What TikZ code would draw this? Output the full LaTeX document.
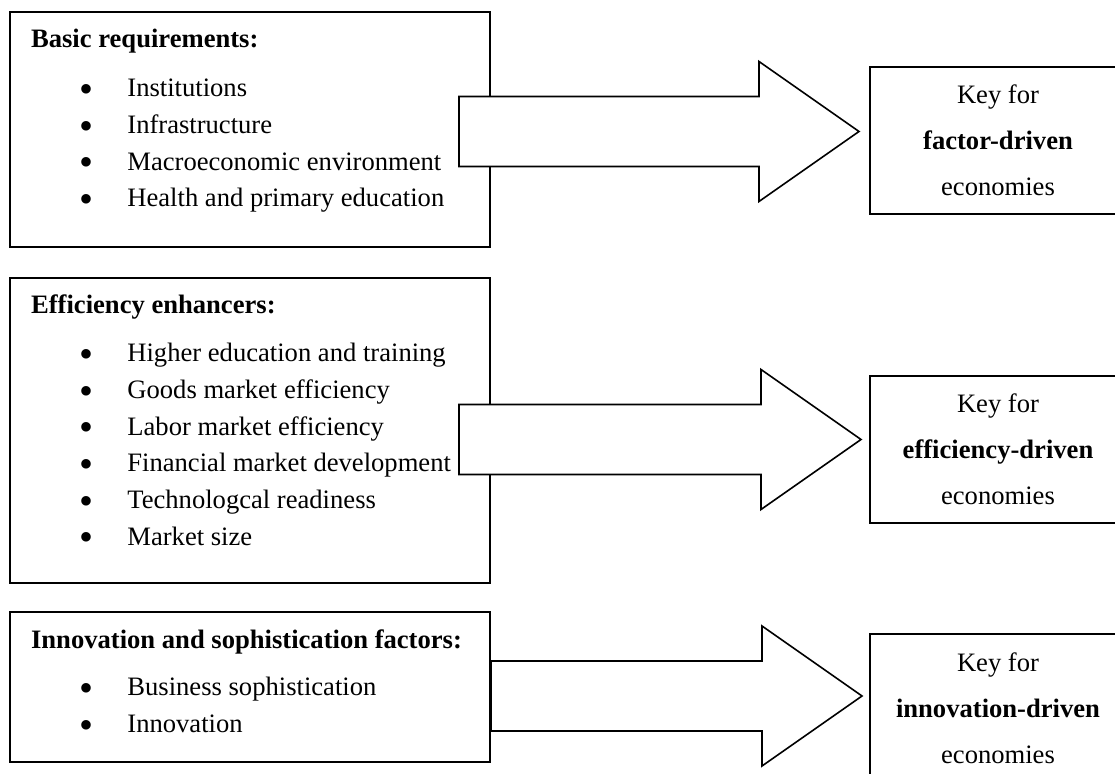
\documentclass[tikz,border=0pt]{standalone}
\usepackage{fontspec}
\setmainfont{Liberation Serif}
\usetikzlibrary{positioning,calc}

\tikzset{
  group/.style={rectangle, draw, line width=1pt, fill=white,
                minimum width=240pt, inner sep=0pt},
  keybox/.style={rectangle, draw, line width=1pt, fill=white,
                 minimum width=128pt, minimum height=73.5pt,
                 align=center, font=\fontsize{13.3}{23}\selectfont},
  heading/.style={anchor=base west, inner sep=0pt,
                  font=\fontsize{13.3}{15}\selectfont\bfseries},
  item/.style={anchor=base west, inner sep=0pt,
               font=\fontsize{13.3}{15}\selectfont},
  blockarr/.style={draw, fill=white, line width=0.8pt, line join=miter},
}
\newcommand{\bul}{\makebox[24pt][l]{\raisebox{-2.9pt}{\scalebox{1.5}{\textbullet}}}}
% horizontal block arrow, tail at #1, tip level with the tail at x of #2
\newcommand{\fatarrow}[2]{%
  \draw[blockarr] let \p1=(#1), \p2=(#2) in
    (\x1,\y1+17.5pt) -- (\x2-50pt,\y1+17.5pt) -- (\x2-50pt,\y1+35pt) -- (\x2,\y1)
    -- (\x2-50pt,\y1-35pt) -- (\x2-50pt,\y1-17.5pt) -- (\x1,\y1-17.5pt) -- cycle;}

\begin{document}
\begin{tikzpicture}[x=0.5pt, y=-0.5pt]
  \useasboundingbox (0,0) rectangle (1115,774);
  \clip (0,0) rectangle (1115,774);

  % pillar groups
  \node[group, minimum height=117.5pt] (basic) at (250,129.5) {};
  \node[heading] (basic-t) at (30.7,47.3) {Basic requirements:};
  \foreach \txt [count=\i] in {Institutions, Infrastructure,
      Macroeconomic environment, Health and primary education}
    \node[item] (basic-\i) at (79,60+36.7*\i) {\bul\txt};

  \node[group, minimum height=152.5pt] (effic) at (250,430.5) {};
  \node[heading] (effic-t) at (30.7,313.3) {Efficiency enhancers:};
  \foreach \txt [count=\i] in {Higher education and training,
      Goods market efficiency, Labor market efficiency,
      Financial market development, Technologcal readiness, Market size}
    \node[item] (effic-\i) at (79,325+36.7*\i) {\bul\txt};

  \node[group, minimum height=75pt] (innov) at (250,687) {};
  \node[heading] (innov-t) at (30.7,648.3) {Innovation and sophistication factors:};
  \foreach \txt [count=\i] in {Business sophistication, Innovation}
    \node[item] (innov-\i) at (79,659.3+36.7*\i) {\bul\txt};

  % stage boxes
  \node[keybox] (fkey) at (998,140.5) {Key for\\\textbf{factor-driven}\\economies};
  \node[keybox] (ekey) at (998,449.5) {Key for\\\textbf{efficiency-driven}\\economies};
  \node[keybox] (ikey) at (998,708) {Key for\\\textbf{innovation-driven}\\economies};

  % block arrows
  \coordinate (basic-out) at ([shift={(-32,2)}]basic.east);
  \coordinate (effic-out) at ([shift={(-32,9)}]effic.east);
  \coordinate (innov-out) at ([shift={(0,9)}]innov.east);
  \coordinate (fkey-in) at ([xshift=-5pt]fkey.west);
  \coordinate (ekey-in) at ([xshift=-4pt]ekey.west);
  \coordinate (ikey-in) at ([xshift=-3.5pt]ikey.west);
  \fatarrow{basic-out}{fkey-in}
  \fatarrow{effic-out}{ekey-in}
  \fatarrow{innov-out}{ikey-in}
\end{tikzpicture}
\end{document}
